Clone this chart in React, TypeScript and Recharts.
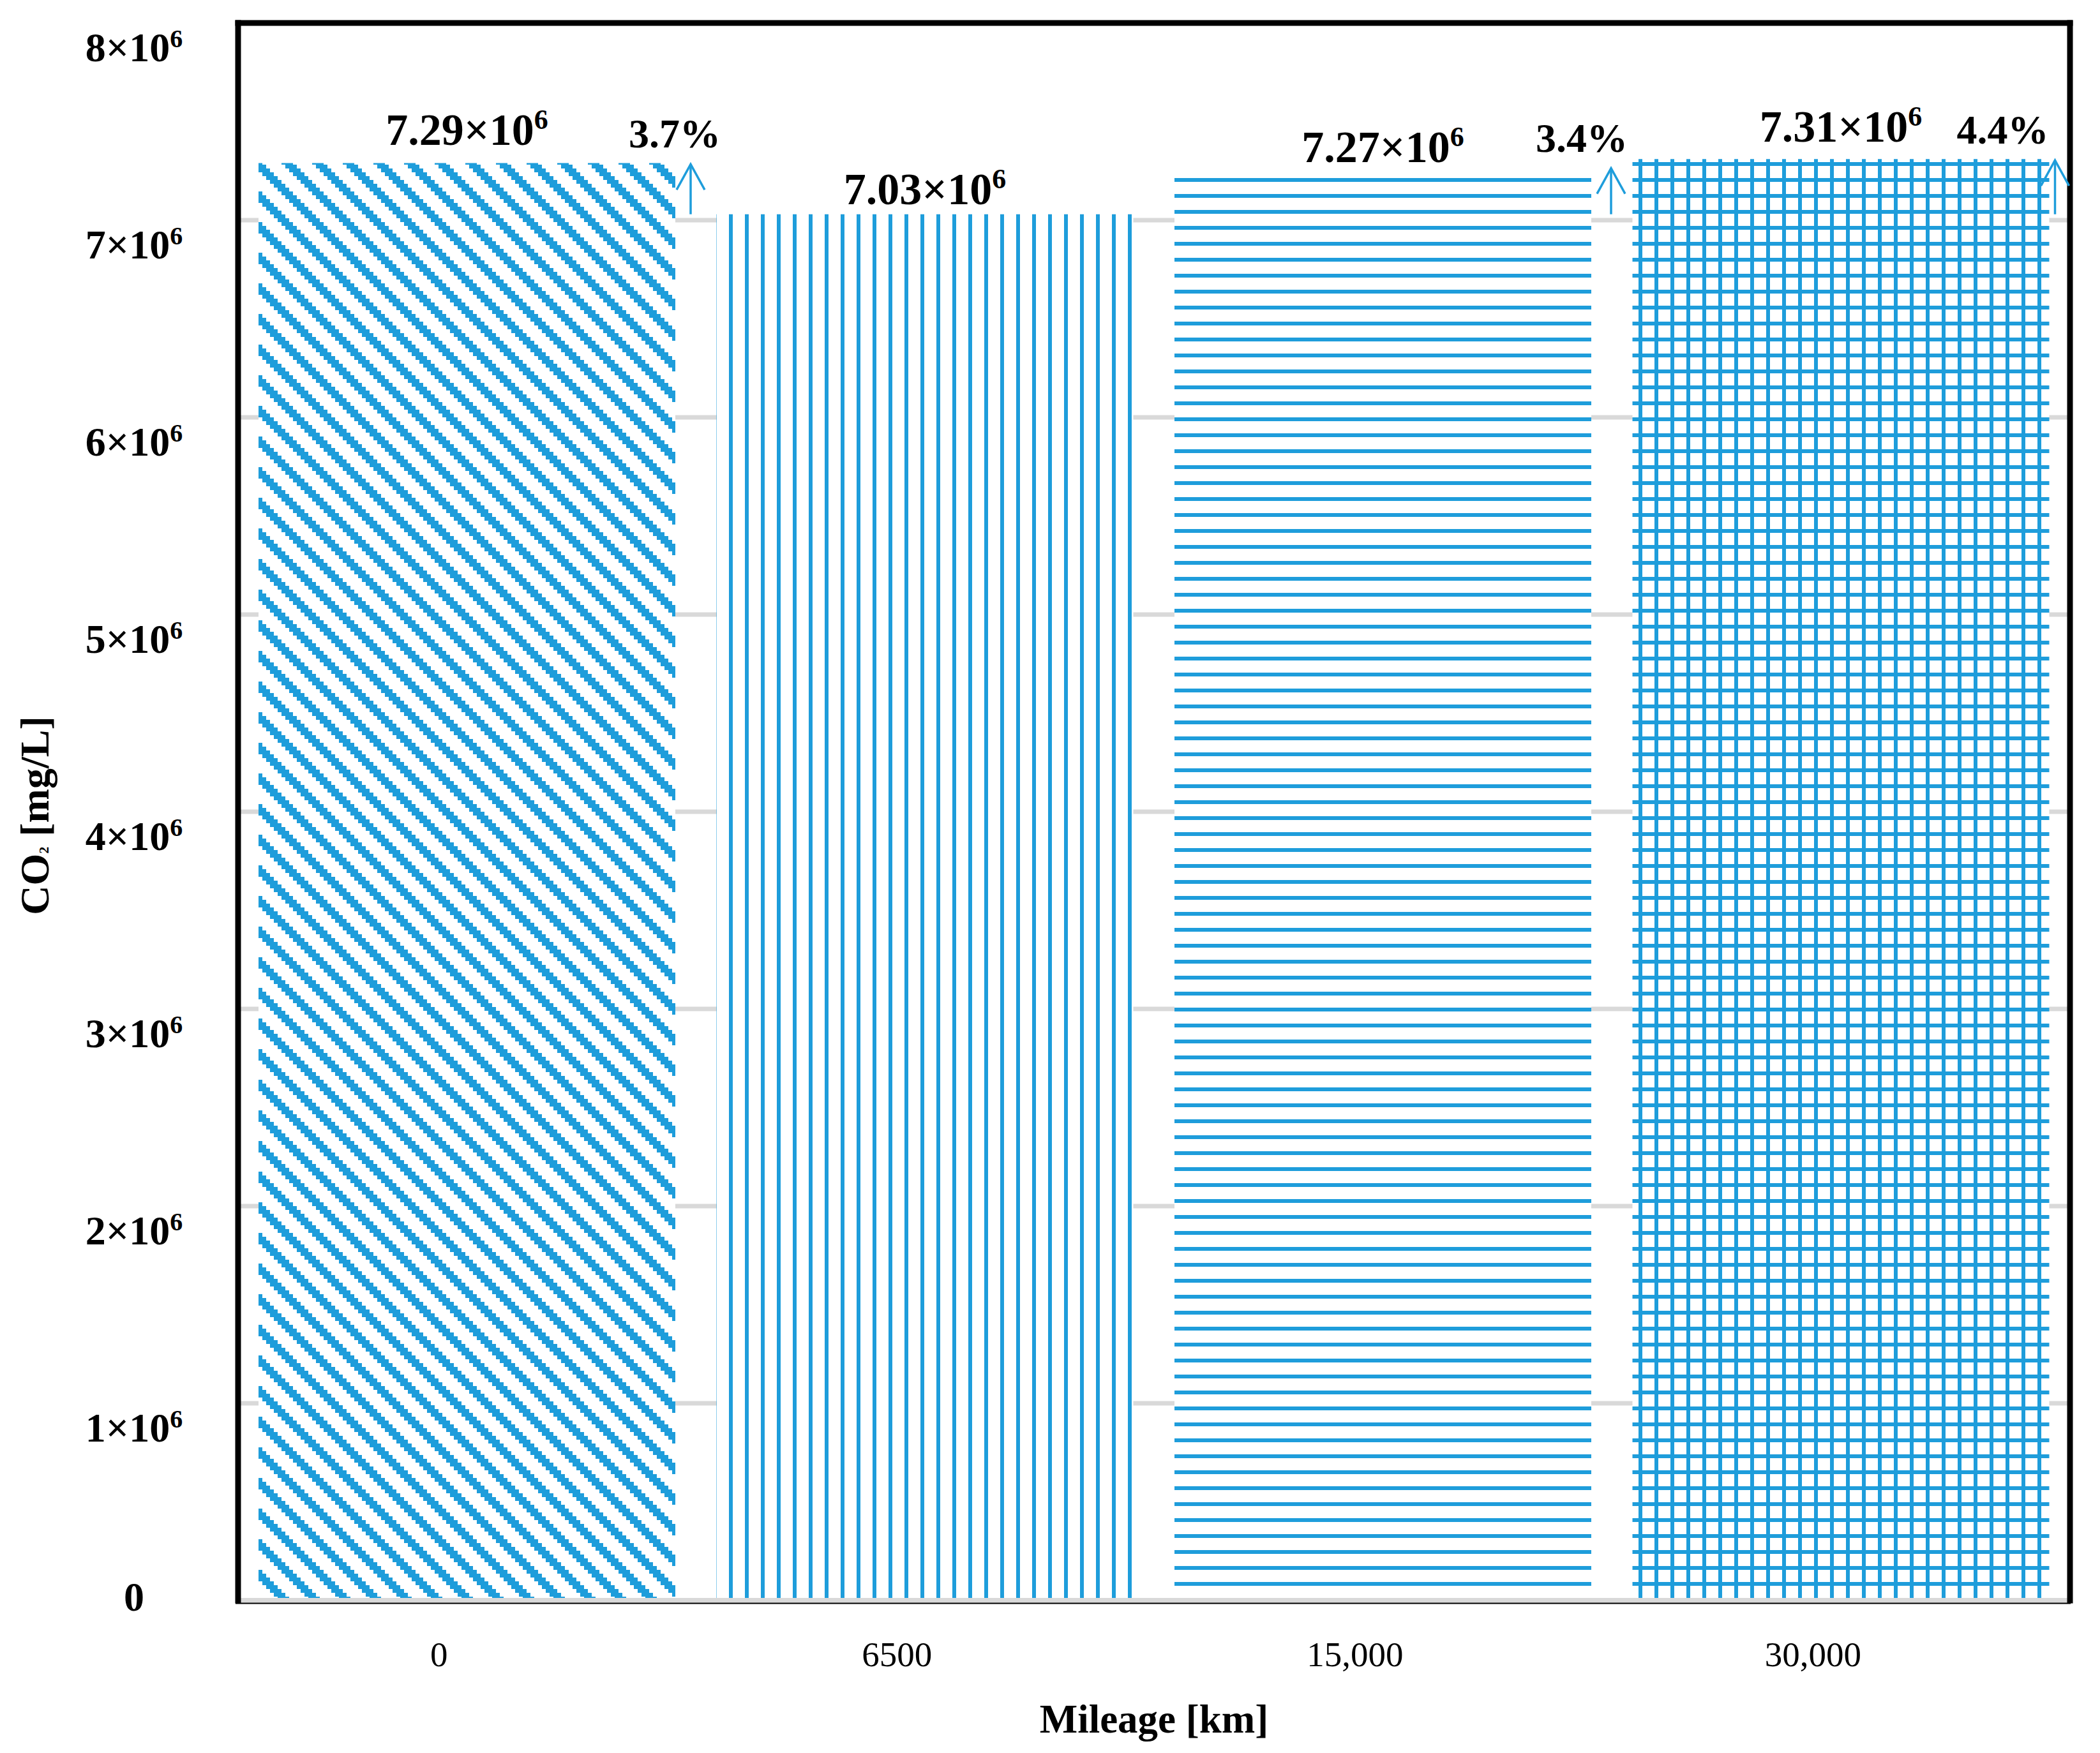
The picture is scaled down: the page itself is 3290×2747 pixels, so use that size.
import { BarChart, Bar, XAxis, YAxis, CartesianGrid, Cell, LabelList, Label, ReferenceLine } from 'recharts';

// mileage categories and CO2 concentration (mg/L)
const MILEAGE = ['0', '6500', '15,000', '30,000'];
const CO2 = [7.29e6, 7.03e6, 7.27e6, 7.31e6];
// rise vs. the 6500 km value, as printed on the figure
const RISE = ['3.7%', '', '3.4%', '4.4%'];
const RISE_BASE = 7.03e6;
const Y_TICKS = [0, 1e6, 2e6, 3e6, 4e6, 5e6, 6e6, 7e6, 8e6];

// hand-placed nudges (px), the source figure has its labels moved by hand
const VALUE_DY = [-28, -16, -8, -27];
const ARROW_DX = [24, 0, 31, 9];
const RISE_DX = [-25, 0, -46, -82];

const BLUE = '#1E9DDB';
const GRID = '#D9D9D9';
const FONT = '"Liberation Serif", "Times New Roman", serif';

const data = MILEAGE.map((m, i) => ({ mileage: m, co2: CO2[i] }));

function YTick({ x, y, payload }: any) {
  const v = payload.value / 1e6;
  const cx = x - 163;
  if (v === 0) {
    return <text x={cx} y={y + 16} textAnchor="middle" fontFamily={FONT} fontWeight="bold" fontSize={64} fill="#000">0</text>;
  }
  return (
    <text x={cx} y={y + 60} textAnchor="middle" fontFamily={FONT} fontWeight="bold" fontSize={64} fill="#000">
      {v}×10<tspan fontSize={40} dy={-22}>6</tspan>
    </text>
  );
}

function XTick({ x, y, payload }: any) {
  return (
    <text x={x - 44} y={y + 103} textAnchor="middle" fontFamily={FONT} fontSize={55} fill="#000">
      {payload.value}
    </text>
  );
}

function ValueLabel({ x, y, width, value, index }: any) {
  return (
    <text x={x + width / 2} y={y + VALUE_DY[index]} textAnchor="middle" fontFamily={FONT} fontWeight="bold" fontSize={70} fill="#000">
      {(value / 1e6).toFixed(2)}×10<tspan fontSize={44} dy={-25}>6</tspan>
    </text>
  );
}

function RiseMark({ x, y, width, height, value, index }: any) {
  const pct = RISE[index];
  if (!pct) return null;
  const ax = x + width + ARROW_DX[index];
  const yBase = y + height - (height * RISE_BASE) / value;
  return (
    <g>
      <line x1={ax} y1={yBase} x2={ax} y2={y + 2} stroke={BLUE} strokeWidth={3.5} />
      <polyline points={`${ax - 22},${y + 42} ${ax},${y + 2} ${ax + 22},${y + 42}`} fill="none" stroke={BLUE} strokeWidth={3.5} />
      <text x={ax + RISE_DX[index]} y={y - 24} textAnchor="middle" fontFamily={FONT} fontWeight="bold" fontSize={64} fill="#000">
        {pct}
      </text>
    </g>
  );
}

// zero line: grey gridline band with the thin black axis rule under it
function ZeroLine(p: any) {
  const x1 = p.x1 ?? p.viewBox?.x;
  const x2 = p.x2 ?? (p.viewBox ? p.viewBox.x + p.viewBox.width : 0);
  const y = p.y1 ?? p.viewBox?.y;
  return (
    <g>
      <rect x={x1} y={y - 4} width={x2 - x1} height={8} fill={GRID} />
      <line x1={x1 - 4} x2={x2 + 1} y1={y + 4.5} y2={y + 4.5} stroke="#000" strokeWidth={2} />
    </g>
  );
}

const frameLine = { stroke: '#000', strokeWidth: 9, strokeLinecap: 'square' as const };

export default function App() {
  return (
    <div style={{ position: 'absolute', left: 0, top: 0, width: 3290, height: 2747, background: '#fff' }}>
      <BarChart width={3290} height={2747} data={data} margin={{ top: 35, right: 46, bottom: 0, left: 0 }} barCategoryGap="4.46%">
        <defs>
          <pattern id="p0" patternUnits="userSpaceOnUse" width={48} height={48} patternTransform="translate(45,0)">
            <rect width={48} height={48} fill="#fff" />
            {Array.from({ length: 8 }, (_, k) => (
              <g key={k}>
                <rect x={6 * k} y={6 * k} width={18} height={6} fill={BLUE} />
                <rect x={6 * k - 48} y={6 * k} width={18} height={6} fill={BLUE} />
              </g>
            ))}
          </pattern>
          <pattern id="p1" patternUnits="userSpaceOnUse" width={25} height={25}>
            <rect width={25} height={25} fill="#fff" />
            <rect x={17} width={6} height={25} fill={BLUE} />
          </pattern>
          <pattern id="p2" patternUnits="userSpaceOnUse" width={25} height={25}>
            <rect width={25} height={25} fill="#fff" />
            <rect y={4} width={25} height={6} fill={BLUE} />
          </pattern>
          <pattern id="p3" patternUnits="userSpaceOnUse" width={25} height={25}>
            <rect width={25} height={25} fill="#fff" />
            <rect x={17} width={6} height={25} fill={BLUE} />
            <rect y={4} width={25} height={6} fill={BLUE} />
          </pattern>
        </defs>

        <CartesianGrid vertical={false} stroke={GRID} strokeWidth={7} />

        <XAxis dataKey="mileage" height={239} interval={0} tickSize={0} tickMargin={0}
          tickLine={false} axisLine={false} tick={(p: any) => <XTick {...p} />}>
          <Label content={({ viewBox }: any) => (
            <text x={viewBox.x + viewBox.width / 2} y={viewBox.y + 207} textAnchor="middle"
              fontFamily={FONT} fontWeight="bold" fontSize={63} fill="#000">Mileage [km]</text>
          )} />
        </XAxis>
        <XAxis xAxisId="top" dataKey="mileage" orientation="top" height={1} tick={false} tickLine={false}
          axisLine={frameLine} />

        <YAxis width={373} domain={[0, 8e6]} ticks={Y_TICKS} interval={0} tickSize={0} tickMargin={0}
          tickLine={false} axisLine={frameLine} tick={(p: any) => <YTick {...p} />}>
          <Label content={({ viewBox }: any) => {
            const cx = viewBox.x + 76;
            const cy = viewBox.y + viewBox.height / 2 + 6;
            return (
              <text x={cx} y={cy} transform={`rotate(-90 ${cx} ${cy})`} textAnchor="middle"
                fontFamily={FONT} fontWeight="bold" fontSize={64} fill="#000">
                CO<tspan fontSize={22}>2</tspan> [mg/L]
              </text>
            );
          }} />
        </YAxis>
        <YAxis yAxisId="right" orientation="right" width={1} domain={[0, 8e6]} tick={false} tickLine={false}
          axisLine={frameLine} />

        <Bar dataKey="co2" isAnimationActive={false}>
          {data.map((_, i) => <Cell key={i} fill={`url(#p${i})`} />)}
          <LabelList dataKey="co2" content={(p: any) => <ValueLabel {...p} />} />
          <LabelList dataKey="co2" content={(p: any) => <RiseMark {...p} />} />
        </Bar>

        <ReferenceLine y={0} shape={(p: any) => <ZeroLine {...p} />} />
      </BarChart>
    </div>
  );
}
